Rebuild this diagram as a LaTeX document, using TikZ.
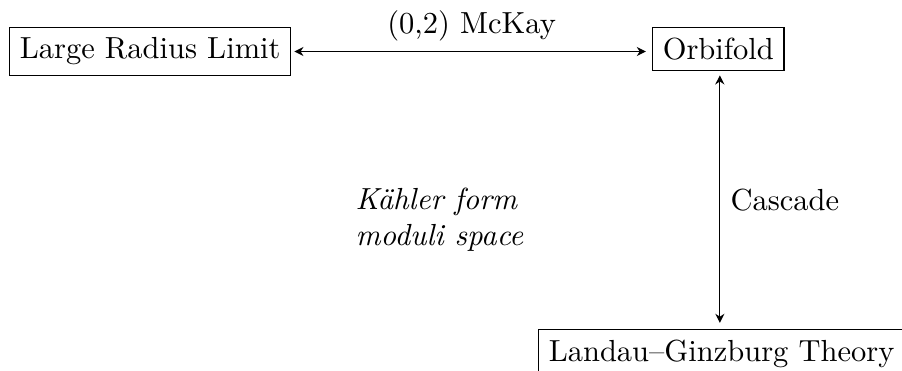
\documentclass[tikz,border=0pt]{standalone}
\usetikzlibrary{arrows.meta}
\begin{document}
\begin{tikzpicture}[x=0.3279pt,y=-0.3279pt,
  box/.style={draw, inner sep=3.333pt, anchor=north west},
  conn/.style={{Stealth[length=3pt,width=3pt]}-{Stealth[length=3pt,width=3pt]}, line width=0.4pt}]
\useasboundingbox (0,0) rectangle (902,370);
\node[box] (lrl) at (9,27) {Large Radius Limit};
\node[box] (orb) at (652,27) {Orbifold};
\node[box] (lg) at (538,329) {Landau--Ginzburg Theory};
\draw[conn, shorten <=1pt, shorten >=2pt] (lrl.east) -- node[above] (mck) {(0,2) McKay} (lrl.east -| orb.west);
\draw[conn, shorten <=1.5pt, shorten >=2pt] ([xshift=0.5pt]orb.south) -- node[right] (cas) {Cascade} ([xshift=0.5pt]orb.south |- lg.north);
\node[anchor=north west, inner sep=0pt, align=left, font=\itshape] (kf) at (355,187) {K\"ahler form\\moduli space};
\end{tikzpicture}
\end{document}
